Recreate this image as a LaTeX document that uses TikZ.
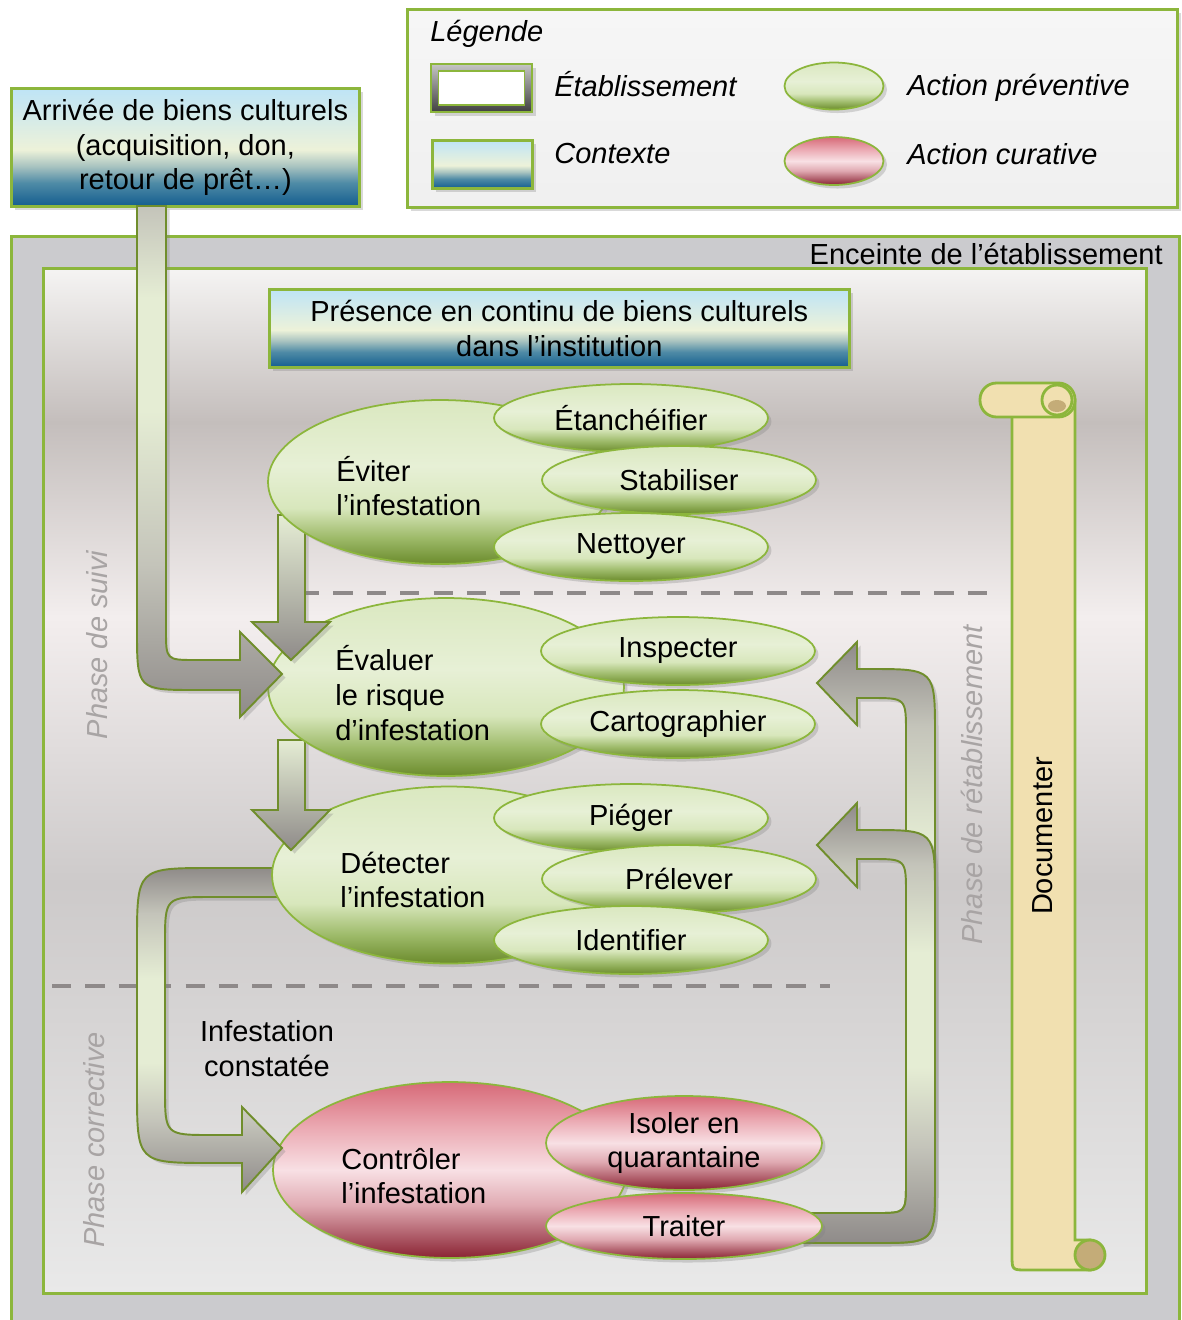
\documentclass[tikz,border=0pt]{standalone}
\usepackage{fontspec}
\setmainfont{Liberation Sans}
\usetikzlibrary{shapes.geometric,shadows,positioning}

\definecolor{frame}{RGB}{140,182,60}
\definecolor{arrowline}{RGB}{112,142,44}
\definecolor{arrowgray}{RGB}{143,139,137}
\definecolor{arrowmid}{RGB}{196,196,186}
\definecolor{arrowlight}{RGB}{229,237,212}
\definecolor{phasegray}{RGB}{168,164,164}
\definecolor{dashgray}{RGB}{142,137,137}
\definecolor{papyrus}{RGB}{241,224,176}
\definecolor{papyrusdark}{RGB}{196,172,120}
\definecolor{marble}{RGB}{203,203,206}
% contexte
\definecolor{ctxt}{RGB}{190,228,246}
\definecolor{ctxl}{RGB}{237,242,217}
\definecolor{ctxm}{RGB}{168,195,192}
\definecolor{ctxn}{RGB}{79,139,166}
\definecolor{ctxd}{RGB}{19,93,143}
% action preventive
\definecolor{gtop}{RGB}{218,232,192}
\definecolor{glight}{RGB}{231,240,214}
\definecolor{gmid}{RGB}{216,231,188}
\definecolor{gdeep}{RGB}{157,186,105}
\definecolor{gbot}{RGB}{107,139,44}
% action curative
\definecolor{rtop}{RGB}{215,106,120}
\definecolor{rup}{RGB}{235,170,179}
\definecolor{rlight}{RGB}{248,224,228}
\definecolor{rlow}{RGB}{224,170,178}
\definecolor{rbot}{RGB}{138,35,51}
% fond etablissement
\definecolor{fa}{RGB}{245,244,243}
\definecolor{fb}{RGB}{196,190,188}
\definecolor{fc}{RGB}{243,238,238}
\definecolor{fd}{RGB}{205,202,202}
\definecolor{fe}{RGB}{233,233,233}

\pgfdeclareverticalshading{contexte}{100bp}{color(0bp)=(ctxd); color(25bp)=(ctxd);
  color(35bp)=(ctxn); color(42bp)=(ctxm); color(49bp)=(ctxl); color(75bp)=(ctxt); color(100bp)=(ctxt)}
\pgfdeclareverticalshading{preventive}{100bp}{color(0bp)=(gbot); color(25bp)=(gbot);
  color(33bp)=(gdeep); color(42bp)=(gmid); color(55bp)=(glight); color(75bp)=(gtop); color(100bp)=(gtop)}
\pgfdeclareverticalshading{curative}{100bp}{color(0bp)=(rbot); color(25bp)=(rbot);
  color(40bp)=(rlow); color(50bp)=(rlight); color(62bp)=(rup); color(75bp)=(rtop); color(100bp)=(rtop)}
\pgfdeclareverticalshading{fondetab}{100bp}{color(0bp)=(fe); color(25bp)=(fe);
  color(45bp)=(fd); color(58bp)=(fc); color(67.5bp)=(fb); color(75bp)=(fa); color(100bp)=(fa)}
\pgfdeclareverticalshading{fleche}{100bp}{color(0bp)=(arrowgray); color(25bp)=(arrowgray);
  color(36bp)=(arrowmid); color(45bp)=(arrowlight); color(58bp)=(arrowlight); color(68bp)=(arrowmid);
  color(75bp)=(arrowgray); color(100bp)=(arrowgray)}
\pgfdeclareverticalshading{flechehaut}{100bp}{color(0bp)=(arrowgray); color(25bp)=(arrowgray);
  color(40bp)=(arrowmid); color(55bp)=(arrowlight); color(66bp)=(arrowlight);
  color(75bp)=(arrowmid); color(100bp)=(arrowmid)}

\newcommand\bigtxt{\fontsize{16.5}{19.8}\selectfont}

\begin{document}
\begin{tikzpicture}[x=0.02cm,y=-0.02cm,font=\bigtxt,
  softshadow/.style={drop shadow={opacity=0.3,shadow xshift=2pt,shadow yshift=-2pt}},
  ctxbox/.style={draw=frame,line width=1.6pt,shading=contexte,align=center,inner sep=0pt,softshadow},
  legendbox/.style={draw=frame,line width=1.6pt,top color=gray!7,middle color=white,bottom color=gray!12,softshadow},
  etabicon/.style={draw=frame,line width=1.2pt,top color=gray!45,bottom color=black!75,softshadow},
  enceinte/.style={draw=frame,line width=1.6pt,fill=marble},
  etabframe/.style={draw=frame,line width=1.6pt,shading=fondetab},
  ellgreen/.style={ellipse,draw=frame,line width=1pt,shading=preventive,align=center,inner sep=0pt,softshadow},
  ellred/.style={ellipse,draw=frame,line width=1pt,shading=curative,align=center,inner sep=0pt,softshadow},
  small/.style={minimum width=5.48cm,minimum height=1.36cm},
  lbl/.style={align=left,anchor=west,inner sep=0pt},
  legtxt/.style={font=\bigtxt\itshape,anchor=west,inner sep=0pt},
  phase/.style={rotate=90,font=\bigtxt\itshape,text=phasegray},
  sep/.style={dashgray,line width=2.8pt,dash pattern=on 11pt off 8pt},
  blockarrow/.style={draw=arrowline,line width=1.1pt,shading=fleche,softshadow},
  downarrow/.style={draw=arrowline,line width=1.1pt,top color=arrowlight,bottom color=arrowgray,softshadow},
  scroll/.style={draw=frame,line width=1.6pt,fill=papyrus}
]
\useasboundingbox (0,0) rectangle (1182,1320);

% Legende
\node[legendbox,anchor=north west,minimum width=15.4cm,minimum height=3.96cm] (legende) at (406,8) {};
\node[legtxt] (legtitre) at (430,34) {Légende};
\node[etabicon,anchor=north west,minimum width=2.02cm,minimum height=0.96cm] (legetab) at (430,63) {};
\node[draw=frame,fill=white,line width=1pt,minimum width=1.72cm,minimum height=0.68cm] (legetabin) at (legetab) {};
\node[legtxt] (legetabtxt) at (554,84) {Établissement};
\node[ctxbox,anchor=north west,minimum width=2cm,minimum height=0.96cm] (legctx) at (431,139) {};
\node[legtxt] (legctxtxt) at (554,154) {Contexte};
\node[ellgreen,minimum width=1.98cm,minimum height=0.94cm] (legprev) at (834,86) {};
\node[legtxt] (legprevtxt) at (907,88) {Action préventive};
\node[ellred,minimum width=1.98cm,minimum height=0.96cm] (legcur) at (834,161) {};
\node[legtxt] (legcurtxt) at (907,154) {Action curative};

% Enceinte et etablissement
\node[enceinte,anchor=north west,minimum width=23.36cm,minimum height=22cm] (enceinte) at (10,235) {};
\node[anchor=east,inner sep=0pt] (enceintetxt) at (1163,254) {Enceinte de l’établissement};
\node[etabframe,anchor=north west,minimum width=22.06cm,minimum height=20.5cm] (etab) at (42,267) {};

% Contexte
\node[ctxbox,anchor=north west,minimum width=6.96cm,minimum height=2.36cm] (arrivee) at (10,87)
  {Arrivée de biens culturels\\(acquisition, don,\\retour de prêt…)};
\node[ctxbox,anchor=north west,minimum width=11.6cm,minimum height=1.56cm] (presence) at (268,288)
  {Présence en continu de biens culturels\\dans l’institution};

% Phases
\draw[sep] (300,593) -- (1000,593);
\draw[sep] (52,986) -- (830,986);
\node[phase] (suivi) at (97,645) {Phase de suivi};
\node[phase] (corrective) at (94,1140) {Phase corrective};
\node[phase] (retablissement) at (972,785) {Phase de rétablissement};
\node[align=center] (constat) at (267,1049) {Infestation\\constatée};

% Documenter
\path[scroll] (1012,400) -- (1012,1255) .. controls (1012,1270) .. (1027,1270) -- (1090,1270)
  -- (1090,1240) -- (1075,1240) -- (1075,400) -- cycle;
\draw[scroll,fill=papyrusdark] (1090,1255) circle[radius=15];
\path[scroll,rounded corners=0.33cm] (980,383) rectangle (1075,417);
\draw[scroll] (1057,400) circle[radius=15];
\fill[papyrusdark] (1057,406) ellipse[x radius=9,y radius=6];
\node[rotate=90] (documenter) at (1043,836) {Documenter};

% Retours vers le suivi
\path[blockarrow] (800,1243) -- (875,1243) .. controls (935,1243) .. (935,1183) -- (935,734)
  .. controls (935,669) .. (870,669) -- (857,669) -- (857,642) -- (817,683) -- (857,725) -- (857,698)
  -- (871,698) .. controls (906,698) .. (906,733) -- (906,1183) .. controls (906,1213) .. (876,1213)
  -- (800,1213) -- cycle;
\path[blockarrow] (800,1243) -- (875,1243) .. controls (935,1243) .. (935,1183) -- (935,895)
  .. controls (935,830) .. (870,830) -- (857,830) -- (857,803) -- (817,845) -- (857,887) -- (857,859)
  -- (871,859) .. controls (906,859) .. (906,894) -- (906,1183) .. controls (906,1213) .. (876,1213)
  -- (800,1213) -- cycle;

% Controler
\node[ellred,minimum width=7.08cm,minimum height=3.52cm] (controler) at (450,1170) {};
\node[lbl] (controlertxt) at (341,1176) {Contrôler\\l’infestation};
\node[ellred,minimum width=5.52cm,minimum height=1.88cm] (isoler) at (684,1143) {Isoler en\\quarantaine};
\node[ellred,minimum width=5.52cm,minimum height=1.32cm] (traiter) at (684,1226) {Traiter};

% Detecter -> Controler
\path[blockarrow] (300,868) -- (212,868) .. controls (137,868) .. (137,943) -- (137,1088)
  .. controls (137,1163) .. (212,1163) -- (242,1163) -- (242,1192) -- (282,1148) -- (242,1107)
  -- (242,1135) -- (212,1135) .. controls (165,1135) .. (165,1088) -- (165,944)
  .. controls (165,897) .. (212,897) -- (300,897) -- cycle;

% Detecter
\node[ellgreen,minimum width=7.08cm,minimum height=3.54cm] (detecter) at (449,875) {};
\node[lbl] (detectertxt) at (340,880) {Détecter\\l’infestation};
\node[ellgreen,small] (pieger) at (631,818) {Piéger};
\node[ellgreen,small] (prelever) at (679,879) {Prélever};
\node[ellgreen,small] (identifier) at (631,940) {Identifier};

% Evaluer -> Detecter
\path[downarrow] (278,740) -- (278,810) -- (252,810) -- (291,850) -- (330,810) -- (305,810) -- (305,740) -- cycle;

% Evaluer
\node[ellgreen,minimum width=7.12cm,minimum height=3.56cm] (evaluer) at (446,687) {};
\node[lbl] (evaluertxt) at (335,693) {Évaluer\\le risque\\d’infestation};
\node[ellgreen,small] (inspecter) at (678,651) {Inspecter};
\node[ellgreen,small] (carto) at (678,724) {Cartographier};

% Arrivee -> Evaluer, Eviter -> Evaluer
\path[blockarrow,shading=flechehaut] (137,206) -- (137,630) .. controls (137,690) .. (197,690) -- (240,690)
  -- (240,717) -- (282,674) -- (240,632) -- (240,660) -- (196,660) .. controls (166,660) .. (166,630)
  -- (166,206) -- cycle;
\path[downarrow] (278,515) -- (278,622) -- (252,622) -- (291,660) -- (330,622) -- (305,622) -- (305,515) -- cycle;

% Eviter
\node[ellgreen,minimum width=6.88cm,minimum height=3.28cm] (eviter) at (440,482) {};
\node[lbl] (evitertxt) at (336,486) {Éviter\\l’infestation};
\node[ellgreen,small] (etancheifier) at (631,418) {Étanchéifier};
\node[ellgreen,small] (stabiliser) at (679,480) {Stabiliser};
\node[ellgreen,small] (nettoyer) at (631,547) {Nettoyer};
\end{tikzpicture}
\end{document}
